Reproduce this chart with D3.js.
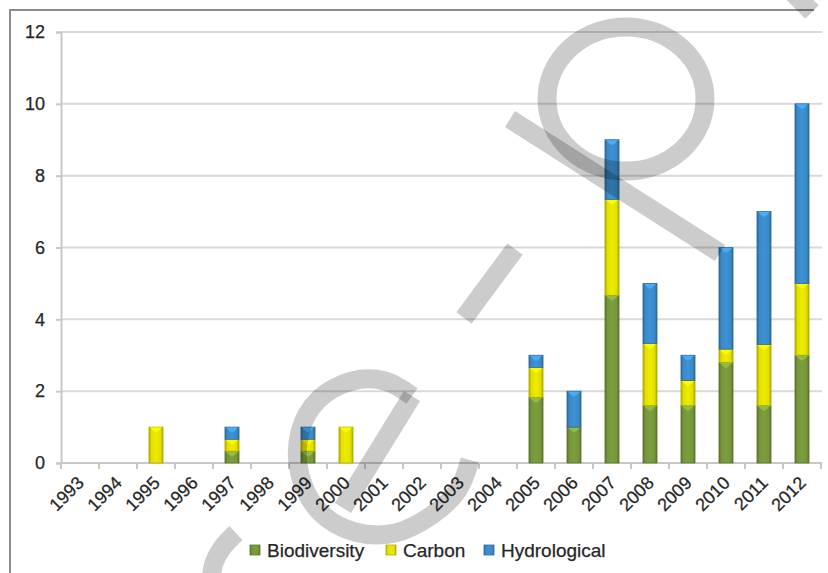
<!doctype html>
<html>
<head>
<meta charset="utf-8" />
<title>Chart</title>
<script src="https://cdn.jsdelivr.net/npm/d3@7/dist/d3.min.js"></script>
<style>
  body { margin: 0; background: #fff; }
  text { font-family: "Liberation Sans", Arial, sans-serif; fill: #262626; stroke: #262626; stroke-width: 0.25px; }
</style>
</head>
<body>
<svg id="chart" width="828" height="573"></svg>
<script>
// data
var years = ["1993","1994","1995","1996","1997","1998","1999","2000","2001","2002",
             "2003","2004","2005","2006","2007","2008","2009","2010","2011","2012"];
var biodiversity = [0,0,0,0,0.33,0,0.33,0,0,0,0,0,1.83,1,4.67,1.6,1.6,2.8,1.6,3];
var carbon       = [0,0,1,0,0.33,0,0.33,1,0,0,0,0,0.83,0,2.67,1.73,0.7,0.37,1.7,2];
var hydrological = [0,0,0,0,0.34,0,0.34,0,0,0,0,0,0.34,1,1.66,1.67,0.7,2.83,3.7,5];
var seriesNames = ["Biodiversity","Carbon","Hydrological"];
var yTicks = [0,2,4,6,8,10,12];

var colors = {Biodiversity: "#76963a", Carbon: "#e2df00", Hydrological: "#3a8ac8"};

var svg = d3.select("#chart");

// outer frame
svg.append("path").attr("d", "M10,573 L10,10 L814,10")
  .attr("fill", "none").attr("stroke", "#8c8c8c").attr("stroke-width", 2);

var x = d3.scaleBand().domain(years).range([61, 821])
  .paddingInner(0.63).paddingOuter(0.315);
var y = d3.scaleLinear().domain([0, 12]).range([463, 32]);

// gradients for the bevel look
var defs = svg.append("defs");
seriesNames.forEach(function(s) {
  var c = d3.color(colors[s]);
  var g = defs.append("linearGradient").attr("id", "g" + s)
    .attr("x1", 0).attr("x2", 1).attr("y1", 0).attr("y2", 0);
  g.append("stop").attr("offset", 0).attr("stop-color", c.darker(0.8));
  g.append("stop").attr("offset", 0.18).attr("stop-color", c);
  g.append("stop").attr("offset", 0.5).attr("stop-color", c.brighter(0.15));
  g.append("stop").attr("offset", 0.82).attr("stop-color", c);
  g.append("stop").attr("offset", 1).attr("stop-color", c.darker(0.8));
});

// gridlines
svg.append("g").selectAll("line").data(yTicks.filter(d => d > 0)).enter()
  .append("line")
  .attr("x1", 61).attr("x2", 822)
  .attr("y1", d => y(d)).attr("y2", d => y(d))
  .attr("stroke", "#d9d9d9").attr("stroke-width", 2);

// y axis
var yAxis = svg.append("g").attr("transform", "translate(61,0)")
  .call(d3.axisLeft(y).tickValues(yTicks).tickSize(5).tickPadding(11));
yAxis.select(".domain").attr("stroke", "#c8c8c8").attr("stroke-width", 2);
yAxis.selectAll(".tick line").attr("stroke", "#c8c8c8").attr("stroke-width", 2);
yAxis.selectAll("text").style("font-size", "18px").attr("fill", "#262626");

// x axis line and ticks at category boundaries
svg.append("line").attr("x1", 60).attr("x2", 822)
  .attr("y1", y(0)).attr("y2", y(0))
  .attr("stroke", "#c8c8c8").attr("stroke-width", 2);
svg.append("g").selectAll("line").data(d3.range(years.length + 1)).enter()
  .append("line")
  .attr("x1", k => 61 + k * x.step()).attr("x2", k => 61 + k * x.step())
  .attr("y1", y(0)).attr("y2", y(0) + 6)
  .attr("stroke", "#c8c8c8").attr("stroke-width", 2);

svg.append("g").selectAll("text").data(years).enter()
  .append("text")
  .attr("transform", d => "translate(" + (x(d) + x.bandwidth() / 2 + 5) + "," + (y(0) + 21) + ") rotate(-45)")
  .attr("text-anchor", "end")
  .style("font-size", "18px")
  .text(d => d);

// stacked bars
var table = years.map(function(yr, i) {
  return {year: yr, Biodiversity: biodiversity[i], Carbon: carbon[i], Hydrological: hydrological[i]};
});
var stacked = d3.stack().keys(seriesNames)(table);

var layers = svg.append("g").selectAll("g").data(stacked).enter()
  .append("g");

layers.selectAll("rect").data(d => d.map(v => ({key: d.key, v: v}))
    .filter(o => o.v[1] - o.v[0] > 0)).enter()
  .append("rect")
  .attr("x", o => x(o.v.data.year))
  .attr("width", x.bandwidth())
  .attr("y", o => y(o.v[1]))
  .attr("height", o => y(o.v[0]) - y(o.v[1]))
  .attr("fill", o => "url(#g" + o.key + ")")
  .attr("stroke", o => d3.color(colors[o.key]).darker(0.6))
  .attr("stroke-width", 0.8);

// light chevron at the top of each segment
layers.selectAll("path").data(d => d.map(v => ({key: d.key, v: v}))
    .filter(o => o.v[1] - o.v[0] > 0)).enter()
  .append("path")
  .attr("d", function(o) {
    var x0 = x(o.v.data.year) + 1, w = x.bandwidth() - 2, t = y(o.v[1]) + 0.5;
    return "M" + x0 + "," + t + " L" + (x0 + w) + "," + t + " L" + (x0 + w - 3) + "," + (t + 3) +
      " L" + (x0 + w / 2) + "," + (t + 5) + " L" + (x0 + 3) + "," + (t + 3) + "Z";
  })
  .attr("fill", o => d3.color(colors[o.key]).brighter(0.7))
  .attr("opacity", 0.85);

// legend
var legendX = [250, 386, 484];
var legend = svg.append("g").selectAll("g").data(seriesNames).enter()
  .append("g").attr("transform", (d, i) => "translate(" + legendX[i] + ",545)");
legend.append("rect").attr("width", 10).attr("height", 10)
  .attr("fill", d => "url(#g" + d + ")")
  .attr("stroke", d => d3.color(colors[d]).darker(0.6)).attr("stroke-width", 0.8);
legend.append("text").attr("x", 17).attr("y", 12)
  .style("font-size", "19px").text(d => d);

// grey watermark strokes drawn over the chart
var wm = svg.append("g").attr("fill", "none")
  .attr("stroke", "rgba(0,0,0,0.2)").attr("stroke-width", 19);
wm.append("ellipse").attr("cx", 626).attr("cy", 99).attr("rx", 79).attr("ry", 72);
wm.append("line").attr("x1", 510).attr("y1", 119).attr("x2", 720).attr("y2", 253);
wm.append("line").attr("x1", 515).attr("y1", 249).attr("x2", 464).attr("y2", 318);
wm.append("line").attr("x1", 412).attr("y1", 396).attr("x2", 343).attr("y2", 508);
var eLine = d3.line().curve(d3.curveCatmullRom);
wm.append("path").attr("d", eLine([[412,396],[385,381],[352,381],[318,400],[300,432],
  [300,475],[320,512],[355,532],[395,533],[432,515],[458,490],[470,460]]));
wm.append("path").attr("d", eLine([[236,533],[222,548],[214,563],[211,580]]));
wm.append("line").attr("x1", 790).attr("y1", -10).attr("x2", 812).attr("y2", 12);
</script>
</body>
</html>
